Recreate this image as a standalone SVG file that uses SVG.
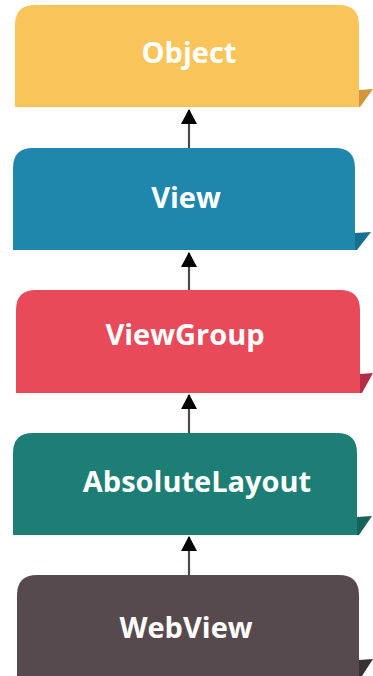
<svg xmlns="http://www.w3.org/2000/svg" width="373" height="676" viewBox="0 0 373 676">
<defs>
<style>
.lbl{font-family:"Open Sans","Liberation Sans",Arial,sans-serif;font-weight:bold;font-size:29px;fill:#ffffff;text-anchor:middle}
.conn{stroke:#4a4a4a;stroke-width:2.2;fill:none}
</style>
<marker id="ah" viewBox="0 0 16 16" refX="15" refY="8" markerWidth="16" markerHeight="16" markerUnits="userSpaceOnUse" orient="auto">
<path d="M1,0 L16,8 L1,16 Z" fill="#000"/>
</marker>
</defs>
<rect width="373" height="676" fill="#ffffff"/>
<g id="connectors">
<line class="conn" x1="189" y1="148" x2="189" y2="110" marker-end="url(#ah)"/>
<line class="conn" x1="189" y1="290" x2="189" y2="253" marker-end="url(#ah)"/>
<line class="conn" x1="189" y1="433" x2="189" y2="395" marker-end="url(#ah)"/>
<line class="conn" x1="189" y1="575" x2="189" y2="537" marker-end="url(#ah)"/>
</g>
<g id="object">
<path d="M15,107 L15,25 Q15,5 35,5 L339,5 Q359,5 359,25 L359,107 Z" fill="#F9C55A"/>
<path d="M359,90 L373,89 L360,107 L359,107 Z" fill="#D4953A"/>
<text class="lbl" x="189" y="63">Object</text>
</g>
<g id="view">
<path d="M13,250 L13,168 Q13,148 33,148 L335,148 Q355,148 355,168 L355,250 Z" fill="#1E87AB"/>
<path d="M355,233 L371,232 L357,250 L355,250 Z" fill="#17708F"/>
<text class="lbl" x="186" y="208">View</text>
</g>
<g id="viewgroup">
<path d="M16,393 L16,310 Q16,290 36,290 L340,290 Q360,290 360,310 L360,393 Z" fill="#E84A59"/>
<path d="M360,374 L373,373 L362,393 L360,393 Z" fill="#B32F46"/>
<text class="lbl" x="185" y="345">ViewGroup</text>
</g>
<g id="absolutelayout">
<path d="M13,535 L13,453 Q13,433 33,433 L337,433 Q357,433 357,453 L357,535 Z" fill="#1C7E74"/>
<path d="M357,517 L372,516 L359,535 L357,535 Z" fill="#156359"/>
<text class="lbl" x="197" y="492">AbsoluteLayout</text>
</g>
<g id="webview">
<path d="M17,676 L17,595 Q17,575 37,575 L339,575 Q359,575 359,595 L359,676 Z" fill="#564A4E"/>
<path d="M359,660 L373,659 L362,676 L359,676 Z" fill="#3A3034"/>
<text class="lbl" x="186" y="638">WebView</text>
</g>
</svg>
